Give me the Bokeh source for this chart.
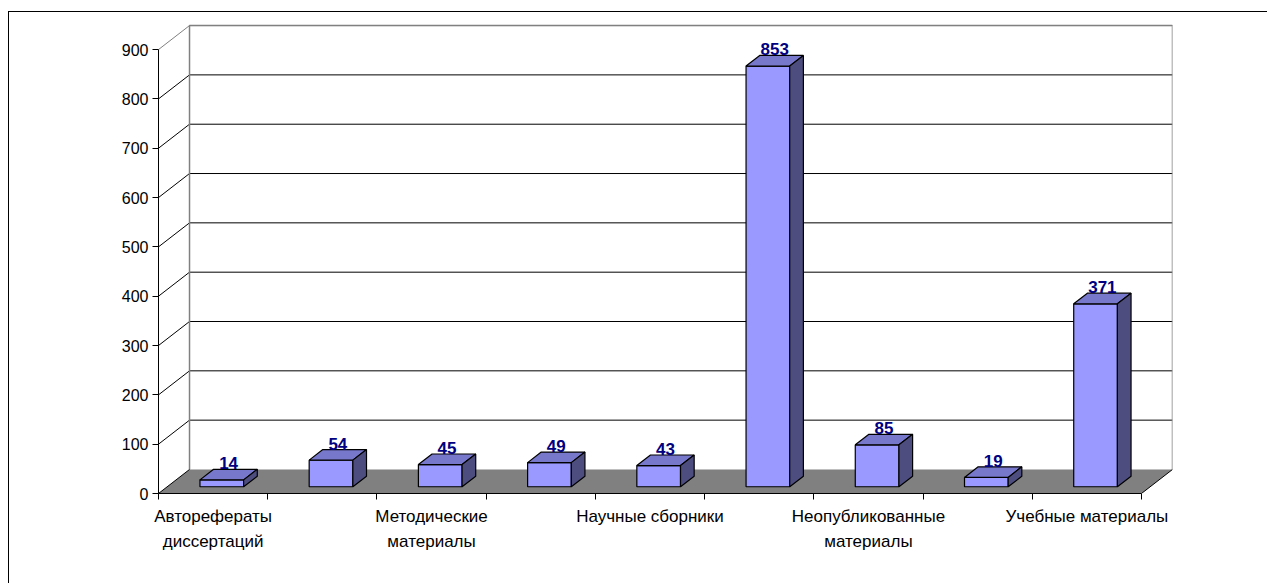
from bokeh.plotting import figure
from bokeh.models import Range1d, FixedTicker
from bokeh.core.properties import value
from bokeh.embed import file_html
from bokeh.resources import INLINE

# ---- data ----
values = [14, 54, 45, 49, 43, 853, 85, 19, 371]
label_positions = [0.5, 2.5, 4.5, 6.5, 8.5]
label_texts = ["Авторефераты\nдиссертаций", "Методические\nматериалы", "Научные сборники",
               "Неопубликованные\nматериалы", "Учебные материалы"]
y_ticks = [0, 100, 200, 300, 400, 500, 600, 700, 800, 900]

# ---- 3D geometry (oblique projection in data units) ----
N = len(values)
DX = 0.284      # depth shift along x (category units)
DY = 48.7       # depth shift along y (value units)
F, B = 0.28, 0.72   # bar front/back depth fractions
W0, W1 = 0.3, 0.7   # bar left/right inside category
YMAX = y_ticks[-1]
FONT = "Liberation Sans"

p = figure(width=1259, height=572, output_backend="svg", toolbar_location=None,
           x_range=Range1d(0, N + DX), y_range=Range1d(0, 963),
           min_border_left=149, min_border_right=96, min_border_top=6, min_border_bottom=91,
           styles={"border-left": "1px solid #000", "border-top": "1px solid #000",
                   "margin-top": "11px", "margin-left": "8px"})
p.outline_line_color = None
p.xgrid.visible = False
p.ygrid.visible = False
p.background_fill_color = "white"
p.border_fill_color = "white"

# back wall gridlines and left-wall diagonals
gx0, gy0, gx1, gy1, gcol = [], [], [], [], []
for t in y_ticks[1:]:
    c = "#808080" if t == YMAX else "#000000"
    gx0 += [DX, 0]; gy0 += [t + DY, t]; gx1 += [N + DX, DX]; gy1 += [t + DY, t + DY]; gcol += [c, c]
p.segment(x0=gx0, y0=gy0, x1=gx1, y1=gy1, line_color=gcol, line_width=1)
# wall border
p.line(x=[DX, DX, N + DX, N + DX], y=[DY, YMAX + DY, YMAX + DY, DY], line_color="#808080", line_width=1.5)

# floor
p.patch(x=[0, N, N + DX, DX], y=[0, 0, DY, DY], fill_color="#808080", line_color=None)
p.segment(x0=[0, N], y0=[0, 0], x1=[DX, N + DX], y1=[DY, DY], line_color="black", line_width=1)

# bars
fx, fy, tx, ty, sx, sy = [], [], [], [], [], []
lx, ly, lt = [], [], []
for i, v in enumerate(values):
    x0, x1 = i + W0, i + W1
    fx.append([x0 + F * DX, x1 + F * DX, x1 + F * DX, x0 + F * DX])
    fy.append([F * DY, F * DY, v + F * DY, v + F * DY])
    tx.append([x0 + F * DX, x1 + F * DX, x1 + B * DX, x0 + B * DX])
    ty.append([v + F * DY, v + F * DY, v + B * DY, v + B * DY])
    sx.append([x1 + F * DX, x1 + B * DX, x1 + B * DX, x1 + F * DX])
    sy.append([F * DY, B * DY, v + B * DY, v + F * DY])
    lx.append((x0 + x1) / 2 + (F + B) / 2 * DX)
    ly.append(v + B * DY)
    lt.append(str(v))
p.patches(xs=fx, ys=fy, fill_color="#9999FF", line_color="black", line_width=1.2)
p.patches(xs=tx, ys=ty, fill_color="#7777CC", line_color="black", line_width=1.2)
p.patches(xs=sx, ys=sy, fill_color="#4D4D80", line_color="black", line_width=1.2)
p.text(x=lx, y=ly, text=lt, text_font=value(FONT), text_font_size="17px", text_font_style="bold",
       text_color="#000080", text_align="center", text_baseline="bottom")

# y axis
ya = p.yaxis[0]
ya.ticker = FixedTicker(ticks=y_ticks, minor_ticks=[])
ya.bounds = (0, YMAX)
ya.axis_line_color = "black"
ya.major_tick_in = 0
ya.major_tick_out = 6
ya.minor_tick_line_color = None
ya.major_label_standoff = 4
ya.major_label_text_font = FONT
ya.major_label_text_font_size = "16px"
ya.major_label_text_color = "black"

# x axis
xa = p.xaxis[0]
xa.ticker = FixedTicker(ticks=label_positions, minor_ticks=list(range(N + 1)))
xa.bounds = (0, N)
xa.axis_line_color = "black"
xa.major_tick_in = 0
xa.major_tick_out = 0
xa.minor_tick_in = 0
xa.minor_tick_out = 6
xa.minor_tick_line_color = "black"
xa.major_label_standoff = 7
xa.major_label_overrides = dict(zip(label_positions, label_texts))
xa.major_label_text_font = FONT
xa.major_label_text_font_size = "17px"
xa.major_label_text_color = "black"
xa.major_label_text_line_height = 1.33

open("out.html", "w").write(file_html(p, INLINE))
